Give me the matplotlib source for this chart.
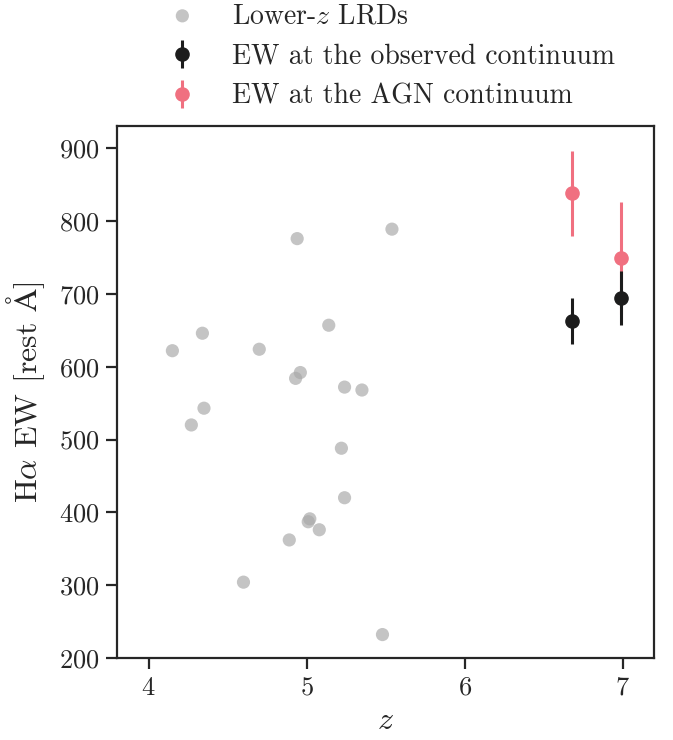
import matplotlib
matplotlib.use("Agg")
import matplotlib.pyplot as plt

plt.rcParams['font.family'] = 'serif'
plt.rcParams['font.serif'] = ['cmr10', 'DejaVu Serif']
plt.rcParams['mathtext.fontset'] = 'cm'
plt.rcParams['axes.formatter.use_mathtext'] = True
plt.rcParams['axes.unicode_minus'] = False

# Lower-z LRDs
lrd_z = [4.15, 4.34, 4.35, 4.27, 4.60, 4.70, 4.89, 4.94, 4.93, 4.96,
         5.01, 5.02, 5.08, 5.14, 5.24, 5.22, 5.24, 5.35, 5.48, 5.54]
lrd_ew = [622, 646, 543, 520, 304, 624, 362, 776, 584, 592,
          387, 391, 376, 657, 572, 488, 420, 568, 232, 789]

# This work
obs_z = [6.68, 6.99]
obs_ew = [663, 695]
obs_err = [32, 37]

agn_z = [6.68, 6.99]
agn_ew = [838, 749]
agn_err = [59, 77]

fig = plt.figure(figsize=(6.73, 7.40), dpi=100)
ax = fig.add_axes([0.174, 0.111, 0.798, 0.719])

dark = '#1c1c1c'
pink = '#F07080'

ax.scatter(lrd_z, lrd_ew, s=90, color='#a8a8a8', alpha=0.68, edgecolor='none',
           label=r'Lower-$z$ LRDs', zorder=2)
ax.errorbar(agn_z, agn_ew, yerr=agn_err, fmt='o', color=pink, ms=9.5,
            elinewidth=2.2, capsize=0, label='EW at the AGN continuum', zorder=3)
ax.errorbar(obs_z, obs_ew, yerr=obs_err, fmt='o', color=dark, ms=9.5,
            elinewidth=2.2, capsize=0, label='EW at the observed continuum', zorder=4)

ax.set_xlim(3.8, 7.2)
ax.set_ylim(200, 931)
ax.set_xticks([4, 5, 6, 7])
ax.set_yticks([200, 300, 400, 500, 600, 700, 800, 900])

for s in ax.spines.values():
    s.set_linewidth(1.6)
    s.set_color('#262626')
ax.tick_params(axis='both', which='major', direction='out', length=8, width=1.6,
               color='#262626', labelsize=19, labelcolor='#262626', pad=5)

ax.set_xlabel(r'$z$', fontsize=23, color='#262626', labelpad=6)
ax.set_ylabel(r'H$\alpha$ EW [rest $\mathrm{\AA}$]', fontsize=23, color='#262626', labelpad=8)

h, l = ax.get_legend_handles_labels()
order = [0, 2, 1]
leg = fig.legend([h[i] for i in order], [l[i] for i in order],
                 loc='upper center', bbox_to_anchor=(0.572, 1.03), frameon=False,
                 fontsize=20, handletextpad=0.8, labelspacing=0.5,
                 labelcolor='#262626')

fig.savefig('out.png', dpi=100)
